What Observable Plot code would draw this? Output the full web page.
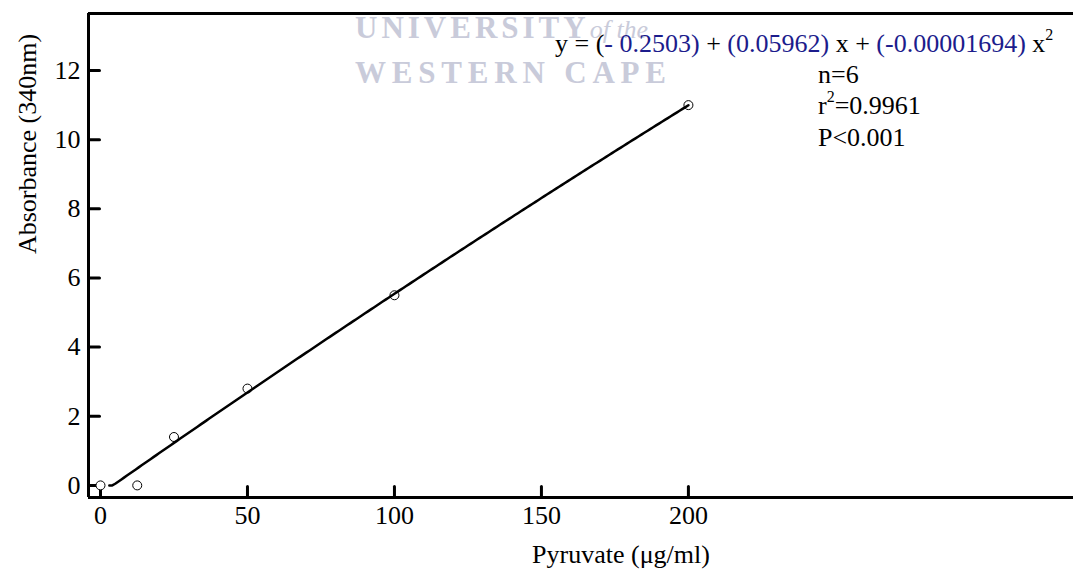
<!DOCTYPE html>
<html>
<head>
<meta charset="utf-8">
<script src="https://cdn.jsdelivr.net/npm/d3@7"></script>
<script src="https://cdn.jsdelivr.net/npm/@observablehq/plot@0.6"></script>
<style>
  html, body { margin: 0; padding: 0; background: #fff; }
  svg { display: block; }
</style>
</head>
<body>
<div id="chart"></div>
<script>
// ---- data ----
const pyruvate = [0, 12.5, 25, 50, 100, 200];
const absorbance = [0, 0, 1.4, 2.8, 5.5, 11.0];
const fitCoefficients = [-0.2503, 0.05962, -0.00001694];
const fitRange = [3, 200];
const xTicks = [0, 50, 100, 150, 200];
const yTicks = [0, 2, 4, 6, 8, 10, 12];
const xLabel = "Pyruvate (\u03bcg/ml)";
const yLabel = "Absorbance (340nm)";
const statLines = ["n=6", "r2=0.9961", "P<0.001"];

const points = pyruvate.map((x, i) => ({x, y: absorbance[i]}));
const fitX = d3.range(fitRange[0], fitRange[1] + 0.001, 1);
const fitLine = fitX.map(x => ({x, y: Math.max(0, fitCoefficients[0] + fitCoefficients[1] * x + fitCoefficients[2] * x * x)}));

const xDomain = [-4.08, 331];
const yDomain = [-0.35, 13.65];
const FONT = "'Liberation Serif', 'Times New Roman', serif";
const FS = 26;
const tickShape = {draw(context, l) { context.moveTo(0, 0); context.lineTo(0, -l); }};

const plot = Plot.plot({
  width: 1073,
  height: 571,
  marginLeft: 88,
  marginRight: 0,
  marginTop: 13,
  marginBottom: 74,
  x: {domain: xDomain},
  y: {domain: yDomain},
  style: {fontFamily: FONT, fontSize: FS + "px", background: "white", color: "black"},
  marks: [
    Plot.axisX(xTicks, {tickSize: 0, tickPadding: 8, fontSize: FS, label: null}),
    Plot.axisY(yTicks, {tickSize: 0, tickPadding: 8, fontSize: FS, label: null}),
    Plot.vector(xTicks, {x: d => d, y: yDomain[0], length: 11, rotate: 0, anchor: "start", shape: tickShape, stroke: "black", strokeWidth: 3}),
    Plot.vector(yTicks, {x: xDomain[0], y: d => d, length: 11, rotate: 90, anchor: "start", shape: tickShape, stroke: "black", strokeWidth: 3}),
    Plot.dot(points, {x: "x", y: "y", r: 4.5, stroke: "black", strokeWidth: 1, fill: "white"}),
    Plot.line(fitLine, {x: "x", y: "y", stroke: "black", strokeWidth: 2.5}),
    Plot.ruleY([yDomain[1]], {stroke: "black", strokeWidth: 3}),
    Plot.ruleY([yDomain[0]], {stroke: "black", strokeWidth: 3}),
    Plot.ruleX([xDomain[0]], {stroke: "black", strokeWidth: 3})
  ]
});

const svg = d3.select(plot);

// watermark (behind everything)
const wm = svg.insert("g", ":first-child").attr("font-family", FONT).attr("fill", "#c9cbda")
  .attr("font-weight", "bold").attr("text-anchor", "start");
const t1 = wm.append("text").attr("x", 355).attr("y", 38).attr("font-size", 31).attr("letter-spacing", 4);
t1.append("tspan").text("UNIVERSITY");
t1.append("tspan").attr("font-style", "italic").attr("font-size", 26).attr("letter-spacing", 0).attr("font-weight", "normal").text("of the");
wm.append("text").attr("x", 355).attr("y", 83).attr("font-size", 31).attr("letter-spacing", 5.8).text("WESTERN CAPE");

// equation
const g = svg.append("g").attr("font-family", FONT).attr("font-size", FS).attr("fill", "black").attr("text-anchor", "start");
const eq = g.append("text").attr("x", 555).attr("y", 52);
const blue = "#1c1c8c";
eq.append("tspan").text("y = (");
eq.append("tspan").attr("fill", blue).text("- 0.2503)");
eq.append("tspan").text(" + ");
eq.append("tspan").attr("fill", blue).text("(0.05962)");
eq.append("tspan").text(" x + ");
eq.append("tspan").attr("fill", blue).text("(-0.00001694)");
eq.append("tspan").text(" x");
eq.append("tspan").attr("font-size", 16).attr("dy", -12).text("2");

// stats
g.append("text").attr("x", 818).attr("y", 83).text(statLines[0]);
const r2 = g.append("text").attr("x", 818).attr("y", 114);
r2.append("tspan").text("r");
r2.append("tspan").attr("font-size", 16).attr("dy", -12).text("2");
r2.append("tspan").attr("dy", 12).text("=0.9961");
g.append("text").attr("x", 818).attr("y", 146).text(statLines[2]);

// axis labels
g.append("text").attr("x", 621).attr("y", 563).attr("text-anchor", "middle").text(xLabel);
g.append("text").attr("transform", "translate(36,144) rotate(-90)").attr("text-anchor", "middle").text(yLabel);

document.getElementById("chart").appendChild(plot);
</script>
</body>
</html>
